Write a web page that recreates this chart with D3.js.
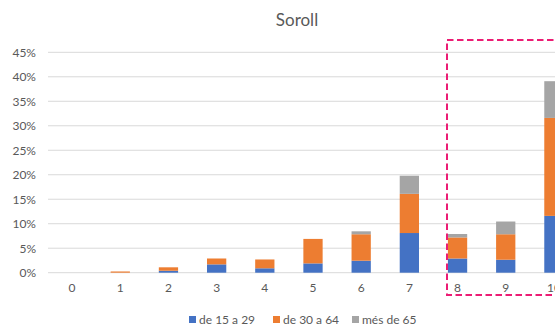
<!DOCTYPE html>
<html>
<head>
<meta charset="utf-8">
<script src="https://cdn.jsdelivr.net/npm/d3@7"></script>
<style>
  html, body { margin: 0; padding: 0; background: #fff; }
  svg { display: block; overflow: hidden; }
  text { font-family: Lato, "Open Sans", sans-serif; fill: #595959; }
</style>
</head>
<body>
<svg id="chart" width="555" height="326"></svg>
<script>
// Noise annoyance score (0–10) by age group, share of respondents
const categories = ["0", "1", "2", "3", "4", "5", "6", "7", "8", "9", "10"];
const seriesNames = ["de 15 a 29", "de 30 a 64", "més de 65"];
const young  = [0.000, 0.000, 0.004, 0.017, 0.009, 0.019, 0.0245, 0.081, 0.029, 0.0265, 0.116];
const adult  = [0.000, 0.0025, 0.007, 0.012, 0.018, 0.050, 0.054, 0.080, 0.043, 0.052, 0.200];
const senior = [0.000, 0.000, 0.000, 0.000, 0.000, 0.000, 0.006, 0.037, 0.007, 0.026, 0.075];
const yTicks = [0, 0.05, 0.10, 0.15, 0.20, 0.25, 0.30, 0.35, 0.40, 0.45];
const colors = ["#4472C4", "#ED7D31", "#A5A5A5"];

const svg = d3.select("#chart");

const x = d3.scaleBand()
  .domain(categories)
  .range([48, 578])
  .paddingInner(0.6)
  .paddingOuter(0.3);

const y = d3.scaleLinear()
  .domain([0, 0.45])
  .range([272.7, 52.3]);

// Horizontal gridlines
svg.append("g")
  .selectAll("line")
  .data(yTicks)
  .join("line")
  .attr("x1", 48)
  .attr("x2", 578)
  .attr("y1", d => y(d))
  .attr("y2", d => y(d))
  .attr("stroke", "#d9d9d9")
  .attr("stroke-width", 1);

// Y axis labels
const yAxis = d3.axisLeft(y)
  .tickValues(yTicks)
  .tickFormat(d3.format(".0%"))
  .tickSize(0)
  .tickPadding(0);
const gy = svg.append("g").attr("transform", "translate(36,0)").call(yAxis);
gy.select(".domain").remove();
gy.selectAll("text")
  .attr("font-size", 12)
  .style("font-family", "Lato, 'Open Sans', sans-serif")
  .attr("fill", "#595959");

// X axis labels
const xAxis = d3.axisBottom(x).tickSize(0).tickPadding(0);
const gx = svg.append("g").attr("transform", "translate(0,283)").call(xAxis);
gx.select(".domain").remove();
gx.selectAll("text")
  .attr("font-size", 12)
  .style("font-family", "Lato, 'Open Sans', sans-serif")
  .attr("fill", "#595959");

// Stacked bars
const rows = categories.map((c, i) => ({
  cat: c,
  [seriesNames[0]]: young[i],
  [seriesNames[1]]: adult[i],
  [seriesNames[2]]: senior[i]
}));
const stacked = d3.stack().keys(seriesNames)(rows);

svg.append("g")
  .selectAll("g")
  .data(stacked)
  .join("g")
  .attr("fill", (d, i) => colors[i])
  .selectAll("rect")
  .data(d => d)
  .join("rect")
  .attr("x", d => x(d.data.cat))
  .attr("width", x.bandwidth())
  .attr("y", d => y(d[1]))
  .attr("height", d => Math.max(0, y(d[0]) - y(d[1])));

// Title
svg.append("text")
  .attr("x", 297)
  .attr("y", 26)
  .attr("text-anchor", "middle")
  .attr("font-size", 17)
  .text("Soroll");

// Legend
const legendX = [189, 273, 352];
const lg = svg.append("g");
seriesNames.forEach((name, i) => {
  lg.append("rect")
    .attr("x", legendX[i])
    .attr("y", 316)
    .attr("width", 7)
    .attr("height", 7)
    .attr("fill", colors[i]);
  lg.append("text")
    .attr("x", legendX[i] + 10)
    .attr("y", 324)
    .attr("font-size", 12)
    .text(name);
});

// Highlight frame around the top scores
svg.append("rect")
  .attr("x", 447)
  .attr("y", 40)
  .attr("width", 160)
  .attr("height", 255)
  .attr("fill", "none")
  .attr("stroke", "#ec1c74")
  .attr("stroke-width", 2)
  .attr("stroke-dasharray", "6.5,3.5");
</script>
</body>
</html>
